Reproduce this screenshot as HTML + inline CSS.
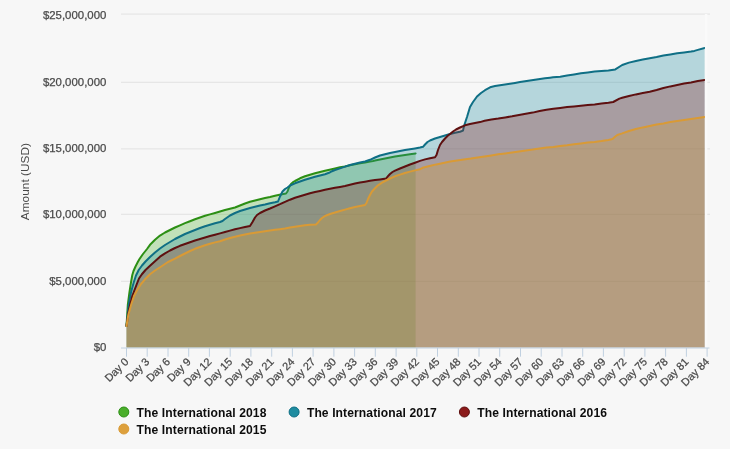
<!DOCTYPE html>
<html lang="en">
<head>
<meta charset="utf-8">
<title>Prize Pool Comparison</title>
<style>
html,body{margin:0;padding:0;background:#f7f7f7;}
body{width:730px;height:449px;overflow:hidden;}
svg{display:block;}
text{font-family:"Liberation Sans",sans-serif;}
.yl{font-size:11.4px;fill:#4a4a4a;stroke:#4a4a4a;stroke-width:0.25px;}
.xl{font-size:10.9px;fill:#4a4a4a;stroke:#4a4a4a;stroke-width:0.25px;}
.lg{font-size:12.1px;font-weight:bold;fill:#0d0d0d;letter-spacing:0.1px;}
.ttl{font-size:11.8px;fill:#484848;letter-spacing:0.05px;}
</style>
</head>
<body>
<svg width="730" height="449" viewBox="0 0 730 449">
<rect x="0" y="0" width="730" height="449" fill="#f7f7f7"/>
<g stroke="#e2e2e2" stroke-width="1" >
<line x1="121" x2="710" y1="14.1" y2="14.1"/>
<line x1="121" x2="710" y1="82.3" y2="82.3"/>
<line x1="121" x2="710" y1="148.9" y2="148.9"/>
<line x1="121" x2="710" y1="214.3" y2="214.3"/>
<line x1="121" x2="710" y1="281.3" y2="281.3"/>
</g>
<path d="M126.5,347.5 L126.5,326.0 L127.8,305.0 L129.3,293.5 L130.8,283.5 L132.3,275.0 L133.5,271.0 L135.5,266.5 L137.8,262.0 L139.5,259.0 L143.0,254.0 L147.0,249.0 L150.0,244.8 L155.0,239.8 L160.0,235.6 L165.0,232.5 L170.0,230.0 L175.0,227.5 L180.0,225.3 L185.0,223.2 L190.0,221.2 L195.0,219.2 L200.0,217.5 L205.0,215.8 L210.0,214.4 L215.0,213.0 L220.0,211.5 L225.0,210.0 L230.0,208.8 L235.0,207.5 L240.0,205.5 L245.0,203.5 L250.0,201.8 L255.0,200.5 L260.0,199.2 L265.0,198.0 L270.0,197.0 L275.0,195.8 L279.5,194.7 L286.0,193.5 L287.5,191.5 L289.0,187.5 L291.0,184.0 L293.0,182.2 L295.0,181.0 L300.0,178.3 L305.0,176.3 L310.0,174.7 L315.0,173.3 L320.0,172.0 L325.0,170.8 L329.5,169.7 L335.0,168.5 L340.0,167.3 L345.0,166.4 L350.0,165.3 L355.0,164.3 L360.0,163.3 L365.0,162.4 L370.0,161.6 L373.0,161.0 L375.0,160.5 L380.0,159.5 L385.0,158.5 L390.0,157.5 L395.0,156.5 L400.0,155.7 L405.0,155.0 L410.0,154.3 L415.6,153.5 L415.6,347.5 Z" fill="#4aae2b" fill-opacity="0.3" stroke="none"/>
<path d="M126.5,326.0 L127.8,305.0 L129.3,293.5 L130.8,283.5 L132.3,275.0 L133.5,271.0 L135.5,266.5 L137.8,262.0 L139.5,259.0 L143.0,254.0 L147.0,249.0 L150.0,244.8 L155.0,239.8 L160.0,235.6 L165.0,232.5 L170.0,230.0 L175.0,227.5 L180.0,225.3 L185.0,223.2 L190.0,221.2 L195.0,219.2 L200.0,217.5 L205.0,215.8 L210.0,214.4 L215.0,213.0 L220.0,211.5 L225.0,210.0 L230.0,208.8 L235.0,207.5 L240.0,205.5 L245.0,203.5 L250.0,201.8 L255.0,200.5 L260.0,199.2 L265.0,198.0 L270.0,197.0 L275.0,195.8 L279.5,194.7 L286.0,193.5 L287.5,191.5 L289.0,187.5 L291.0,184.0 L293.0,182.2 L295.0,181.0 L300.0,178.3 L305.0,176.3 L310.0,174.7 L315.0,173.3 L320.0,172.0 L325.0,170.8 L329.5,169.7 L335.0,168.5 L340.0,167.3 L345.0,166.4 L350.0,165.3 L355.0,164.3 L360.0,163.3 L365.0,162.4 L370.0,161.6 L373.0,161.0 L375.0,160.5 L380.0,159.5 L385.0,158.5 L390.0,157.5 L395.0,156.5 L400.0,155.7 L405.0,155.0 L410.0,154.3 L415.6,153.5" fill="none" stroke="#2c8f14" stroke-width="2" stroke-linejoin="round" stroke-linecap="round"/>
<path d="M126.5,347.5 L126.5,326.0 L128.5,306.0 L129.7,299.0 L131.2,291.5 L133.7,282.5 L136.0,275.5 L138.7,270.0 L142.0,265.5 L145.5,261.5 L150.0,257.0 L155.0,252.5 L160.0,248.5 L165.0,245.0 L170.0,242.0 L175.0,239.0 L180.0,236.5 L185.0,234.0 L190.0,232.0 L195.0,230.0 L200.0,228.0 L205.0,226.2 L210.0,224.7 L215.0,223.2 L220.0,222.0 L222.5,221.0 L225.0,219.0 L230.0,215.5 L235.0,213.0 L240.0,211.0 L245.0,209.5 L250.0,208.0 L255.0,206.8 L260.0,205.5 L265.0,204.5 L270.0,203.3 L275.0,202.3 L278.0,201.5 L280.0,196.5 L282.5,191.5 L285.0,189.0 L287.5,187.5 L290.0,185.5 L295.0,183.3 L300.0,181.5 L305.0,179.8 L310.0,178.2 L315.0,176.8 L320.0,175.5 L325.0,174.2 L329.0,172.8 L332.0,171.2 L335.0,170.0 L340.0,168.4 L345.0,166.6 L350.0,165.0 L355.0,163.7 L360.0,162.5 L365.0,161.5 L370.0,159.8 L375.0,157.5 L380.0,155.5 L385.0,154.2 L390.0,153.0 L395.0,152.0 L400.0,151.0 L405.0,150.1 L410.0,149.3 L415.0,148.4 L420.0,147.5 L423.0,146.8 L425.0,144.5 L427.5,142.0 L430.0,140.5 L435.0,138.5 L440.0,137.0 L445.0,135.5 L450.0,134.0 L455.0,132.8 L460.0,131.8 L463.0,130.6 L464.0,126.0 L465.0,123.0 L467.0,117.0 L470.0,107.0 L473.0,102.0 L477.0,96.5 L481.0,93.0 L485.0,90.2 L491.0,86.9 L495.0,86.1 L500.0,85.3 L505.0,84.5 L510.0,83.7 L515.0,82.9 L520.0,82.1 L525.0,81.3 L530.0,80.5 L535.0,79.7 L540.0,79.0 L545.0,78.3 L550.0,77.7 L553.0,77.3 L560.2,76.8 L567.1,75.6 L574.0,74.4 L580.9,73.2 L587.8,72.4 L594.6,71.6 L601.5,71.0 L608.4,70.4 L615.3,69.4 L622.2,65.0 L629.0,62.6 L635.9,61.0 L642.8,59.6 L649.7,58.2 L656.6,57.0 L663.4,55.6 L670.3,54.4 L677.2,53.2 L684.1,52.4 L691.0,51.6 L694.4,50.9 L697.8,49.9 L704.7,48.0 L704.7,347.5 Z" fill="#1e8ca0" fill-opacity="0.3" stroke="none"/>
<path d="M126.5,326.0 L128.5,306.0 L129.7,299.0 L131.2,291.5 L133.7,282.5 L136.0,275.5 L138.7,270.0 L142.0,265.5 L145.5,261.5 L150.0,257.0 L155.0,252.5 L160.0,248.5 L165.0,245.0 L170.0,242.0 L175.0,239.0 L180.0,236.5 L185.0,234.0 L190.0,232.0 L195.0,230.0 L200.0,228.0 L205.0,226.2 L210.0,224.7 L215.0,223.2 L220.0,222.0 L222.5,221.0 L225.0,219.0 L230.0,215.5 L235.0,213.0 L240.0,211.0 L245.0,209.5 L250.0,208.0 L255.0,206.8 L260.0,205.5 L265.0,204.5 L270.0,203.3 L275.0,202.3 L278.0,201.5 L280.0,196.5 L282.5,191.5 L285.0,189.0 L287.5,187.5 L290.0,185.5 L295.0,183.3 L300.0,181.5 L305.0,179.8 L310.0,178.2 L315.0,176.8 L320.0,175.5 L325.0,174.2 L329.0,172.8 L332.0,171.2 L335.0,170.0 L340.0,168.4 L345.0,166.6 L350.0,165.0 L355.0,163.7 L360.0,162.5 L365.0,161.5 L370.0,159.8 L375.0,157.5 L380.0,155.5 L385.0,154.2 L390.0,153.0 L395.0,152.0 L400.0,151.0 L405.0,150.1 L410.0,149.3 L415.0,148.4 L420.0,147.5 L423.0,146.8 L425.0,144.5 L427.5,142.0 L430.0,140.5 L435.0,138.5 L440.0,137.0 L445.0,135.5 L450.0,134.0 L455.0,132.8 L460.0,131.8 L463.0,130.6 L464.0,126.0 L465.0,123.0 L467.0,117.0 L470.0,107.0 L473.0,102.0 L477.0,96.5 L481.0,93.0 L485.0,90.2 L491.0,86.9 L495.0,86.1 L500.0,85.3 L505.0,84.5 L510.0,83.7 L515.0,82.9 L520.0,82.1 L525.0,81.3 L530.0,80.5 L535.0,79.7 L540.0,79.0 L545.0,78.3 L550.0,77.7 L553.0,77.3 L560.2,76.8 L567.1,75.6 L574.0,74.4 L580.9,73.2 L587.8,72.4 L594.6,71.6 L601.5,71.0 L608.4,70.4 L615.3,69.4 L622.2,65.0 L629.0,62.6 L635.9,61.0 L642.8,59.6 L649.7,58.2 L656.6,57.0 L663.4,55.6 L670.3,54.4 L677.2,53.2 L684.1,52.4 L691.0,51.6 L694.4,50.9 L697.8,49.9 L704.7,48.0" fill="none" stroke="#0f6f85" stroke-width="2" stroke-linejoin="round" stroke-linecap="round"/>
<path d="M126.5,347.5 L126.5,326.0 L128.5,312.0 L130.3,304.0 L132.3,296.0 L134.7,289.5 L137.0,283.5 L139.0,278.5 L141.7,274.5 L145.5,270.0 L150.0,265.8 L155.0,261.3 L160.0,256.7 L165.0,253.3 L170.0,250.5 L175.0,248.0 L180.0,245.8 L185.0,244.0 L190.0,242.2 L195.0,240.5 L200.0,239.0 L205.0,237.5 L210.0,236.0 L215.0,234.7 L220.0,233.4 L225.0,232.0 L230.0,230.6 L235.0,229.3 L240.0,228.1 L245.0,227.0 L250.0,226.0 L252.5,222.0 L255.0,217.5 L257.0,215.0 L260.0,213.0 L265.0,210.5 L270.0,208.5 L275.0,206.3 L280.0,204.2 L285.0,201.8 L290.0,199.7 L295.0,197.8 L300.0,196.2 L305.0,194.7 L310.0,193.3 L315.0,192.0 L320.0,190.9 L325.0,189.8 L330.0,188.8 L335.0,187.8 L340.0,186.9 L345.0,186.0 L350.0,184.7 L355.0,183.6 L360.0,182.5 L365.0,181.7 L370.0,180.8 L375.0,180.1 L380.0,179.4 L386.0,178.6 L388.0,176.2 L390.0,174.0 L392.5,172.0 L395.0,170.6 L400.0,168.5 L405.0,166.5 L410.0,164.5 L415.0,162.7 L420.0,160.9 L425.0,159.4 L430.0,158.2 L435.0,157.2 L436.5,155.0 L438.0,150.0 L440.0,145.0 L442.0,142.0 L445.0,138.5 L448.0,135.5 L450.0,134.0 L453.0,131.5 L456.0,129.5 L460.0,127.5 L465.0,125.3 L470.0,124.0 L475.0,123.0 L480.0,122.1 L484.6,120.8 L491.4,119.6 L498.3,118.6 L505.2,117.4 L512.1,116.3 L519.0,115.0 L525.8,113.8 L532.7,112.6 L539.6,111.0 L546.5,109.8 L553.4,108.8 L560.2,107.9 L567.1,107.1 L574.0,106.4 L580.9,105.7 L587.8,105.0 L594.6,104.4 L601.5,103.6 L608.4,102.8 L613.2,102.0 L619.4,98.6 L622.2,97.8 L629.0,96.0 L635.9,94.4 L642.8,93.0 L649.7,91.8 L656.6,90.0 L663.4,88.0 L670.3,86.4 L677.2,85.0 L684.1,83.6 L691.0,82.4 L697.8,81.0 L704.7,80.0 L704.7,347.5 Z" fill="#8b1a1a" fill-opacity="0.3" stroke="none"/>
<path d="M126.5,326.0 L128.5,312.0 L130.3,304.0 L132.3,296.0 L134.7,289.5 L137.0,283.5 L139.0,278.5 L141.7,274.5 L145.5,270.0 L150.0,265.8 L155.0,261.3 L160.0,256.7 L165.0,253.3 L170.0,250.5 L175.0,248.0 L180.0,245.8 L185.0,244.0 L190.0,242.2 L195.0,240.5 L200.0,239.0 L205.0,237.5 L210.0,236.0 L215.0,234.7 L220.0,233.4 L225.0,232.0 L230.0,230.6 L235.0,229.3 L240.0,228.1 L245.0,227.0 L250.0,226.0 L252.5,222.0 L255.0,217.5 L257.0,215.0 L260.0,213.0 L265.0,210.5 L270.0,208.5 L275.0,206.3 L280.0,204.2 L285.0,201.8 L290.0,199.7 L295.0,197.8 L300.0,196.2 L305.0,194.7 L310.0,193.3 L315.0,192.0 L320.0,190.9 L325.0,189.8 L330.0,188.8 L335.0,187.8 L340.0,186.9 L345.0,186.0 L350.0,184.7 L355.0,183.6 L360.0,182.5 L365.0,181.7 L370.0,180.8 L375.0,180.1 L380.0,179.4 L386.0,178.6 L388.0,176.2 L390.0,174.0 L392.5,172.0 L395.0,170.6 L400.0,168.5 L405.0,166.5 L410.0,164.5 L415.0,162.7 L420.0,160.9 L425.0,159.4 L430.0,158.2 L435.0,157.2 L436.5,155.0 L438.0,150.0 L440.0,145.0 L442.0,142.0 L445.0,138.5 L448.0,135.5 L450.0,134.0 L453.0,131.5 L456.0,129.5 L460.0,127.5 L465.0,125.3 L470.0,124.0 L475.0,123.0 L480.0,122.1 L484.6,120.8 L491.4,119.6 L498.3,118.6 L505.2,117.4 L512.1,116.3 L519.0,115.0 L525.8,113.8 L532.7,112.6 L539.6,111.0 L546.5,109.8 L553.4,108.8 L560.2,107.9 L567.1,107.1 L574.0,106.4 L580.9,105.7 L587.8,105.0 L594.6,104.4 L601.5,103.6 L608.4,102.8 L613.2,102.0 L619.4,98.6 L622.2,97.8 L629.0,96.0 L635.9,94.4 L642.8,93.0 L649.7,91.8 L656.6,90.0 L663.4,88.0 L670.3,86.4 L677.2,85.0 L684.1,83.6 L691.0,82.4 L697.8,81.0 L704.7,80.0" fill="none" stroke="#5e1010" stroke-width="2" stroke-linejoin="round" stroke-linecap="round"/>
<path d="M126.5,347.5 L126.5,326.0 L128.3,315.0 L131.2,304.5 L134.0,296.0 L137.2,290.0 L141.0,284.0 L145.0,279.3 L150.0,274.3 L155.0,270.5 L160.5,267.0 L168.0,262.0 L175.0,258.7 L180.0,256.0 L185.0,253.5 L190.0,251.0 L195.0,248.8 L200.0,247.0 L205.0,245.3 L210.0,243.8 L215.0,242.4 L220.0,241.2 L225.0,239.5 L230.0,238.0 L235.0,236.7 L240.0,235.6 L245.0,234.6 L250.0,233.6 L255.0,232.8 L260.0,232.0 L265.0,231.2 L270.0,230.5 L275.0,229.8 L280.0,229.2 L285.0,228.5 L290.0,227.6 L295.0,226.8 L300.0,226.0 L305.0,225.3 L310.0,224.8 L316.0,224.4 L318.0,222.5 L320.0,220.0 L322.0,218.0 L325.0,216.0 L330.0,214.0 L335.0,212.5 L340.0,211.0 L345.0,209.6 L350.0,208.3 L355.0,207.0 L360.0,206.0 L365.0,205.0 L366.5,203.0 L368.0,199.0 L370.0,195.0 L372.0,191.5 L375.0,188.3 L378.0,185.3 L382.0,182.6 L386.0,180.5 L390.0,178.5 L395.0,176.3 L400.0,174.6 L405.0,173.0 L410.0,171.6 L415.0,170.4 L420.0,169.2 L422.6,167.8 L429.5,166.0 L436.4,164.4 L443.3,163.0 L450.2,161.6 L457.0,160.4 L463.9,159.4 L470.8,158.6 L477.7,157.4 L484.6,156.4 L491.4,155.4 L498.3,154.3 L505.2,153.4 L512.1,152.4 L519.0,151.5 L525.8,150.5 L532.7,149.6 L539.6,148.4 L546.5,147.6 L553.4,147.0 L560.2,146.1 L567.1,145.3 L574.0,144.2 L580.9,143.4 L587.8,142.6 L594.6,142.0 L601.5,141.1 L608.4,140.0 L612.5,139.0 L615.3,136.5 L617.3,135.0 L622.2,133.4 L629.0,131.0 L635.9,129.0 L642.8,127.4 L649.7,126.0 L656.6,124.6 L663.4,123.4 L670.3,122.0 L677.2,121.0 L684.1,120.0 L691.0,119.0 L697.8,118.0 L704.7,117.0 L704.7,347.5 Z" fill="#d5a034" fill-opacity="0.3" stroke="none"/>
<path d="M126.5,326.0 L128.3,315.0 L131.2,304.5 L134.0,296.0 L137.2,290.0 L141.0,284.0 L145.0,279.3 L150.0,274.3 L155.0,270.5 L160.5,267.0 L168.0,262.0 L175.0,258.7 L180.0,256.0 L185.0,253.5 L190.0,251.0 L195.0,248.8 L200.0,247.0 L205.0,245.3 L210.0,243.8 L215.0,242.4 L220.0,241.2 L225.0,239.5 L230.0,238.0 L235.0,236.7 L240.0,235.6 L245.0,234.6 L250.0,233.6 L255.0,232.8 L260.0,232.0 L265.0,231.2 L270.0,230.5 L275.0,229.8 L280.0,229.2 L285.0,228.5 L290.0,227.6 L295.0,226.8 L300.0,226.0 L305.0,225.3 L310.0,224.8 L316.0,224.4 L318.0,222.5 L320.0,220.0 L322.0,218.0 L325.0,216.0 L330.0,214.0 L335.0,212.5 L340.0,211.0 L345.0,209.6 L350.0,208.3 L355.0,207.0 L360.0,206.0 L365.0,205.0 L366.5,203.0 L368.0,199.0 L370.0,195.0 L372.0,191.5 L375.0,188.3 L378.0,185.3 L382.0,182.6 L386.0,180.5 L390.0,178.5 L395.0,176.3 L400.0,174.6 L405.0,173.0 L410.0,171.6 L415.0,170.4 L420.0,169.2 L422.6,167.8 L429.5,166.0 L436.4,164.4 L443.3,163.0 L450.2,161.6 L457.0,160.4 L463.9,159.4 L470.8,158.6 L477.7,157.4 L484.6,156.4 L491.4,155.4 L498.3,154.3 L505.2,153.4 L512.1,152.4 L519.0,151.5 L525.8,150.5 L532.7,149.6 L539.6,148.4 L546.5,147.6 L553.4,147.0 L560.2,146.1 L567.1,145.3 L574.0,144.2 L580.9,143.4 L587.8,142.6 L594.6,142.0 L601.5,141.1 L608.4,140.0 L612.5,139.0 L615.3,136.5 L617.3,135.0 L622.2,133.4 L629.0,131.0 L635.9,129.0 L642.8,127.4 L649.7,126.0 L656.6,124.6 L663.4,123.4 L670.3,122.0 L677.2,121.0 L684.1,120.0 L691.0,119.0 L697.8,118.0 L704.7,117.0" fill="none" stroke="#d99a35" stroke-width="2" stroke-linejoin="round" stroke-linecap="round"/>
<rect x="704.9" y="14" width="2.4" height="333" fill="#fafafa"/>
<g stroke="#c0d0e0" stroke-width="1">
<line x1="121" x2="709.5" y1="348.0" y2="348.0"/>
<line x1="126.5" x2="126.5" y1="348.0" y2="356.7"/>
<line x1="147.2" x2="147.2" y1="348.0" y2="356.7"/>
<line x1="168.0" x2="168.0" y1="348.0" y2="356.7"/>
<line x1="188.7" x2="188.7" y1="348.0" y2="356.7"/>
<line x1="209.4" x2="209.4" y1="348.0" y2="356.7"/>
<line x1="230.2" x2="230.2" y1="348.0" y2="356.7"/>
<line x1="250.9" x2="250.9" y1="348.0" y2="356.7"/>
<line x1="271.7" x2="271.7" y1="348.0" y2="356.7"/>
<line x1="292.4" x2="292.4" y1="348.0" y2="356.7"/>
<line x1="313.1" x2="313.1" y1="348.0" y2="356.7"/>
<line x1="333.9" x2="333.9" y1="348.0" y2="356.7"/>
<line x1="354.6" x2="354.6" y1="348.0" y2="356.7"/>
<line x1="375.3" x2="375.3" y1="348.0" y2="356.7"/>
<line x1="396.1" x2="396.1" y1="348.0" y2="356.7"/>
<line x1="416.8" x2="416.8" y1="348.0" y2="356.7"/>
<line x1="437.5" x2="437.5" y1="348.0" y2="356.7"/>
<line x1="458.3" x2="458.3" y1="348.0" y2="356.7"/>
<line x1="479.0" x2="479.0" y1="348.0" y2="356.7"/>
<line x1="499.7" x2="499.7" y1="348.0" y2="356.7"/>
<line x1="520.5" x2="520.5" y1="348.0" y2="356.7"/>
<line x1="541.2" x2="541.2" y1="348.0" y2="356.7"/>
<line x1="562.0" x2="562.0" y1="348.0" y2="356.7"/>
<line x1="582.7" x2="582.7" y1="348.0" y2="356.7"/>
<line x1="603.4" x2="603.4" y1="348.0" y2="356.7"/>
<line x1="624.2" x2="624.2" y1="348.0" y2="356.7"/>
<line x1="644.9" x2="644.9" y1="348.0" y2="356.7"/>
<line x1="665.6" x2="665.6" y1="348.0" y2="356.7"/>
<line x1="686.4" x2="686.4" y1="348.0" y2="356.7"/>
<line x1="707.1" x2="707.1" y1="348.0" y2="356.7"/>
</g>
<text class="yl" x="106.3" y="350.9" text-anchor="end">$0</text>
<text class="yl" x="106.3" y="284.6" text-anchor="end">$5,000,000</text>
<text class="yl" x="106.3" y="218.0" text-anchor="end">$10,000,000</text>
<text class="yl" x="106.3" y="152.2" text-anchor="end">$15,000,000</text>
<text class="yl" x="106.3" y="85.9" text-anchor="end">$20,000,000</text>
<text class="yl" x="106.3" y="18.7" text-anchor="end">$25,000,000</text>
<text class="ttl" text-anchor="middle" transform="translate(29,181.6) rotate(-90)">Amount (USD)</text>
<text class="xl" text-anchor="end" transform="translate(129.4,362.5) rotate(-45)">Day 0</text>
<text class="xl" text-anchor="end" transform="translate(150.1,362.5) rotate(-45)">Day 3</text>
<text class="xl" text-anchor="end" transform="translate(170.9,362.5) rotate(-45)">Day 6</text>
<text class="xl" text-anchor="end" transform="translate(191.6,362.5) rotate(-45)">Day 9</text>
<text class="xl" text-anchor="end" transform="translate(212.3,362.5) rotate(-45)">Day 12</text>
<text class="xl" text-anchor="end" transform="translate(233.1,362.5) rotate(-45)">Day 15</text>
<text class="xl" text-anchor="end" transform="translate(253.8,362.5) rotate(-45)">Day 18</text>
<text class="xl" text-anchor="end" transform="translate(274.6,362.5) rotate(-45)">Day 21</text>
<text class="xl" text-anchor="end" transform="translate(295.3,362.5) rotate(-45)">Day 24</text>
<text class="xl" text-anchor="end" transform="translate(316.0,362.5) rotate(-45)">Day 27</text>
<text class="xl" text-anchor="end" transform="translate(336.8,362.5) rotate(-45)">Day 30</text>
<text class="xl" text-anchor="end" transform="translate(357.5,362.5) rotate(-45)">Day 33</text>
<text class="xl" text-anchor="end" transform="translate(378.2,362.5) rotate(-45)">Day 36</text>
<text class="xl" text-anchor="end" transform="translate(399.0,362.5) rotate(-45)">Day 39</text>
<text class="xl" text-anchor="end" transform="translate(419.7,362.5) rotate(-45)">Day 42</text>
<text class="xl" text-anchor="end" transform="translate(440.4,362.5) rotate(-45)">Day 45</text>
<text class="xl" text-anchor="end" transform="translate(461.2,362.5) rotate(-45)">Day 48</text>
<text class="xl" text-anchor="end" transform="translate(481.9,362.5) rotate(-45)">Day 51</text>
<text class="xl" text-anchor="end" transform="translate(502.6,362.5) rotate(-45)">Day 54</text>
<text class="xl" text-anchor="end" transform="translate(523.4,362.5) rotate(-45)">Day 57</text>
<text class="xl" text-anchor="end" transform="translate(544.1,362.5) rotate(-45)">Day 60</text>
<text class="xl" text-anchor="end" transform="translate(564.9,362.5) rotate(-45)">Day 63</text>
<text class="xl" text-anchor="end" transform="translate(585.6,362.5) rotate(-45)">Day 66</text>
<text class="xl" text-anchor="end" transform="translate(606.3,362.5) rotate(-45)">Day 69</text>
<text class="xl" text-anchor="end" transform="translate(627.1,362.5) rotate(-45)">Day 72</text>
<text class="xl" text-anchor="end" transform="translate(647.8,362.5) rotate(-45)">Day 75</text>
<text class="xl" text-anchor="end" transform="translate(668.5,362.5) rotate(-45)">Day 78</text>
<text class="xl" text-anchor="end" transform="translate(689.3,362.5) rotate(-45)">Day 81</text>
<text class="xl" text-anchor="end" transform="translate(710.0,362.5) rotate(-45)">Day 84</text>
<circle cx="123.8" cy="412.0" r="5" fill="#4aae2b" stroke="#2c8f14" stroke-width="1"/>
<text class="lg" x="136.6" y="416.5">The International 2018</text>
<circle cx="294.1" cy="412.0" r="5" fill="#1e8ca0" stroke="#0f6f85" stroke-width="1"/>
<text class="lg" x="306.9" y="416.5">The International 2017</text>
<circle cx="464.4" cy="412.0" r="5" fill="#8b1a1a" stroke="#5e1010" stroke-width="1"/>
<text class="lg" x="477.2" y="416.5">The International 2016</text>
<circle cx="123.8" cy="429.0" r="5" fill="#dda03c" stroke="#d99a35" stroke-width="1"/>
<text class="lg" x="136.6" y="433.5">The International 2015</text>
</svg>
</body>
</html>
